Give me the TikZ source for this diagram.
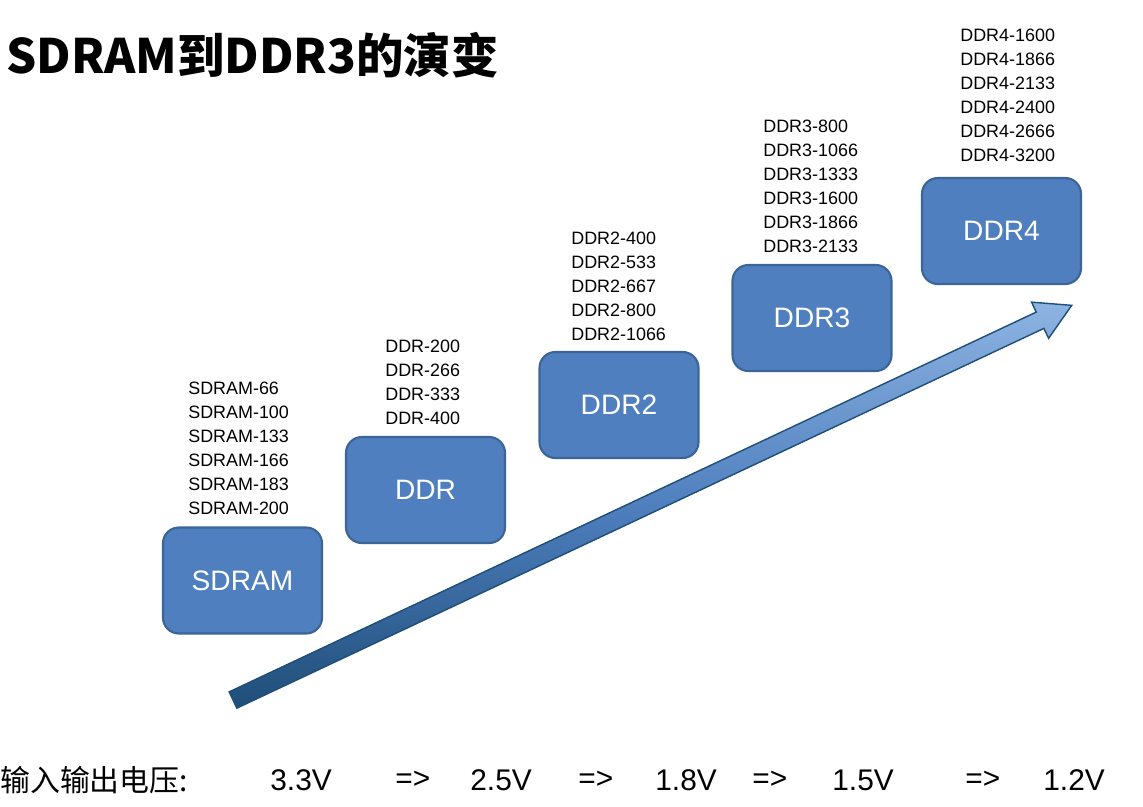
\documentclass[tikz,border=0pt]{standalone}
\usepackage{fontspec}
\setmainfont{Liberation Sans}
\newfontfamily\cjk{Noto Sans CJK SC}
\begin{document}
\begin{tikzpicture}[x=0.02cm,y=-0.02cm,
  box/.style={draw=boxedge,line width=1.2pt,fill=boxfill,rounded corners=9pt,minimum width=159*0.02cm,minimum height=106*0.02cm,text=white,font=\fontsize{16}{18}\selectfont,inner sep=0pt},
  lab/.style={anchor=west,font=\fontsize{10.2}{12}\selectfont,inner sep=0pt},
  volt/.style={anchor=west,font=\fontsize{17}{20}\selectfont,inner sep=0pt}]
\definecolor{boxfill}{HTML}{4F7FBE}
\definecolor{boxedge}{HTML}{3A6596}
\definecolor{arrlight}{HTML}{8DB4E2}
\definecolor{arrdark}{HTML}{1F4E79}
\useasboundingbox (0,0) rectangle (1143,806);
\node[anchor=west,inner sep=0pt,font=\cjk\bfseries\fontsize{27}{30}\selectfont] (title) at (6,55) {SDRAM到DDR3的演变};
% arrow
\begin{scope}[shift={(233,700)},rotate=25.2]
\path[draw=arrdark,line width=0.8pt,top color=arrlight,bottom color=arrdark,middle color=boxfill,shading angle=0]
 (0,-9)--(892,-9)--(892,-20)--(927,0)--(892,20)--(892,9)--(0,9)--cycle;
\end{scope}
\node[box] (sdram) at (242.5,580.5) {SDRAM};
\node[box] (ddr) at (425.5,490) {DDR};
\node[box] (ddr2) at (619,405) {DDR2};
\node[box] (ddr3) at (812,318) {DDR3};
\node[box] (ddr4) at (1001.5,231) {DDR4};
\foreach \t [count=\i] in {SDRAM-66,SDRAM-100,SDRAM-133,SDRAM-166,SDRAM-183,SDRAM-200}
  \node[lab] (la\i) at (188,{388+24*(\i-1)}) {\t};
\foreach \t [count=\i] in {DDR-200,DDR-266,DDR-333,DDR-400}
  \node[lab] (lb\i) at (385,{346+24*(\i-1)}) {\t};
\foreach \t [count=\i] in {DDR2-400,DDR2-533,DDR2-667,DDR2-800,DDR2-1066}
  \node[lab] (lc\i) at (571,{238+24*(\i-1)}) {\t};
\foreach \t [count=\i] in {DDR3-800,DDR3-1066,DDR3-1333,DDR3-1600,DDR3-1866,DDR3-2133}
  \node[lab] (ld\i) at (763,{126+24*(\i-1)}) {\t};
\foreach \t [count=\i] in {DDR4-1600,DDR4-1866,DDR4-2133,DDR4-2400,DDR4-2666,DDR4-3200}
  \node[lab] (le\i) at (960,{35+24*(\i-1)}) {\t};
\node[volt,font=\cjk\fontsize{17}{20}\selectfont] (vl) at (0,780) {输入输出电压:};
\node[volt] (v1) at (270,780) {3.3V};
\node[volt] (a1) at (395,780) {=>};
\node[volt] (v2) at (470,780) {2.5V};
\node[volt] (a2) at (578,780) {=>};
\node[volt] (v3) at (655,780) {1.8V};
\node[volt] (a3) at (752,780) {=>};
\node[volt] (v4) at (832,780) {1.5V};
\node[volt] (a4) at (965,780) {=>};
\node[volt] (v5) at (1043,780) {1.2V};
\end{tikzpicture}
\end{document}
